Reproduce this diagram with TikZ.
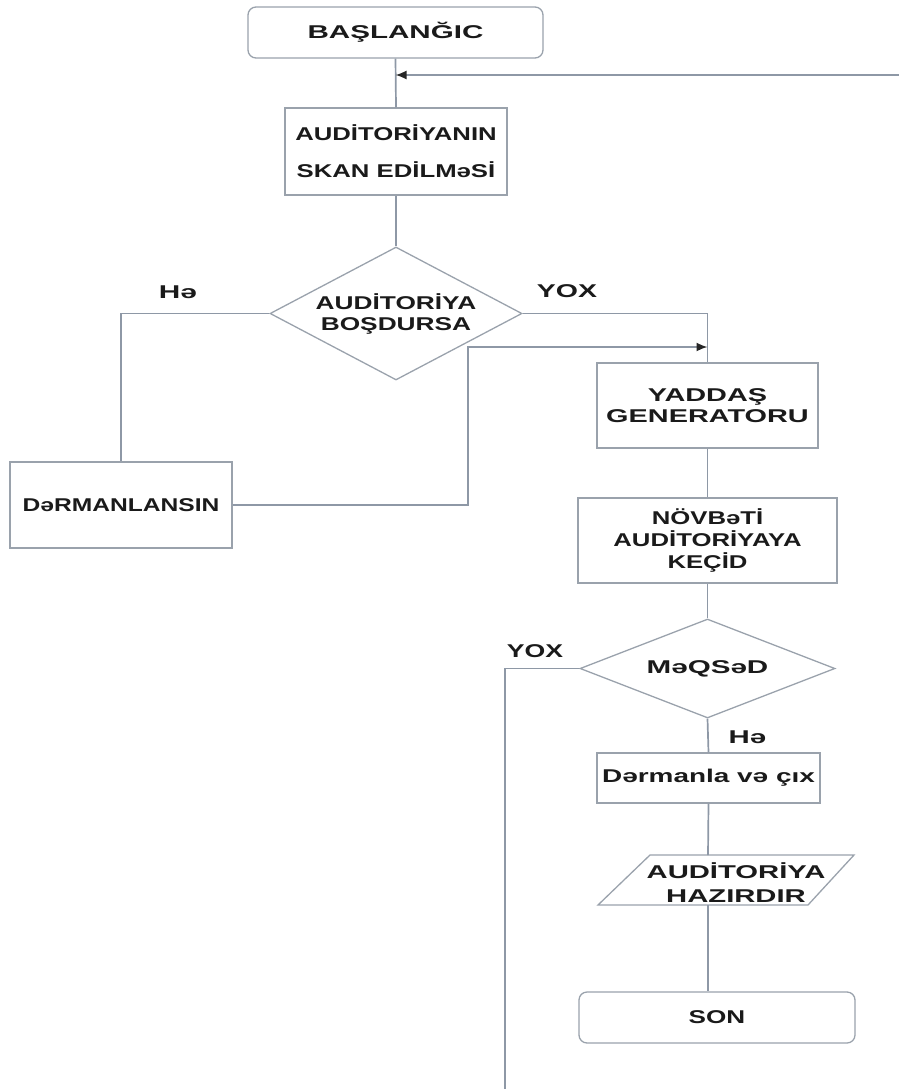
\documentclass[tikz,border=0pt]{standalone}
\usepackage{fontspec}
\setmainfont{Liberation Sans}
\usetikzlibrary{arrows.meta,shapes.geometric}
\definecolor{ln}{HTML}{8E98A6}
\definecolor{bd}{HTML}{9AA2AC}
\definecolor{tx}{HTML}{1A1A1A}
\newcommand\stretchf[1]{\addfontfeature{FakeStretch=#1}}
\tikzset{
 fnt/.style 2 args={font=\bfseries\fontsize{18.5}{#2}\selectfont\stretchf{#1}},
 term/.style={draw=bd, line width=1.3pt, rounded corners=8pt, inner sep=0pt, text=tx},
 proc/.style={draw=bd, line width=1.3pt, inner sep=0pt, align=center, text=tx},
 dec/.style={diamond, aspect=2, draw=bd, line width=1.3pt, inner sep=0pt, align=center, text=tx},
 conn/.style={draw=ln, line width=1.7pt},
 arr/.style={-{Latex[length=11pt,width=9pt,color=black!85]}},
 lbl/.style={text=tx, inner sep=0pt},
}
\begin{document}
\begin{tikzpicture}[x=1pt,y=-1pt]
\useasboundingbox (0,0) rectangle (899,1089);
% nodes
\node[term, fnt={1.6}{20}, minimum width=295, minimum height=51] (start) at (395.5,32.5) {BAŞLANĞIC};
\node[proc, fnt={1.39}{37}, minimum width=222, minimum height=87] (scan) at (396,151.5) {AUDİTORİYANIN\\SKAN EDİLMəSİ};
\node[dec, fnt={1.42}{21}, minimum width=252, minimum height=133] (d1) at (396,313.5) {AUDİTORİYA\\BOŞDURSA};
\node[proc, fnt={1.33}{20}, minimum width=222, minimum height=86] (derm) at (121,505) {DəRMANLANSIN};
\node[proc, fnt={1.56}{21}, minimum width=221, minimum height=85] (yad) at (707.5,405.5) {YADDAŞ\\GENERATORU};
\node[proc, fnt={1.39}{22}, minimum width=259, minimum height=85] (nov) at (707.5,540.5) {NÖVBəTİ\\AUDİTORİYAYA\\KEÇİD};
\node[dec, fnt={1.6}{20}, minimum width=255, minimum height=99] (d2) at (707.5,668.5) {MəQSəD};
\node[proc, fnt={1.51}{20}, minimum width=223, minimum height=50] (drm2) at (708.5,778) {Dərmanla və çıx};
\draw[draw=bd, line width=1.3pt] (650,855) -- (854,855) -- (808,905) -- (598,905) -- cycle;
\node[lbl, fnt={1.58}{24}, align=center] (hazir) at (736,883) {AUDİTORİYA\\HAZIRDIR};
\coordinate (pN) at (708,855);
\coordinate (pS) at (708,905);
\node[term, fnt={1.41}{20}, minimum width=276, minimum height=51] (son) at (717,1017.5) {SON};
% labels
\node[lbl, fnt={1.61}{20}] (l1) at (178,292) {Hə};
\node[lbl, fnt={1.54}{20}] (l2) at (567,291) {YOX};
\node[lbl, fnt={1.44}{20}] (l3) at (535,651) {YOX};
\node[lbl, fnt={1.59}{20}] (l4) at (747.5,737) {Hə};
% coordinates
\coordinate (rin) at (899,75);
\coordinate (bend) at (468,347);
\coordinate (bot) at (505,1089);
% connectors
\draw[conn] (start.south) -- (scan.north);
\draw[conn, arr] (rin) -- (rin -| start.south);
\draw[conn] (scan.south) -- (d1.north);
\draw[conn] (d1.west) -| (derm.north);
\draw[conn] (d1.east) -| (yad.north);
\draw[conn, arr] (derm.east) -| (bend) -- (bend -| yad.north);
\draw[conn] (yad.south) -- (nov.north);
\draw[conn] (nov.south) -- (d2.north);
\draw[conn] (d2.south) -- (drm2.north);
\draw[conn] (drm2.south) -- (pN);
\draw[conn] (pS) -- (pS |- son.north);
\draw[conn] (d2.west) -| (bot);
\end{tikzpicture}
\end{document}
